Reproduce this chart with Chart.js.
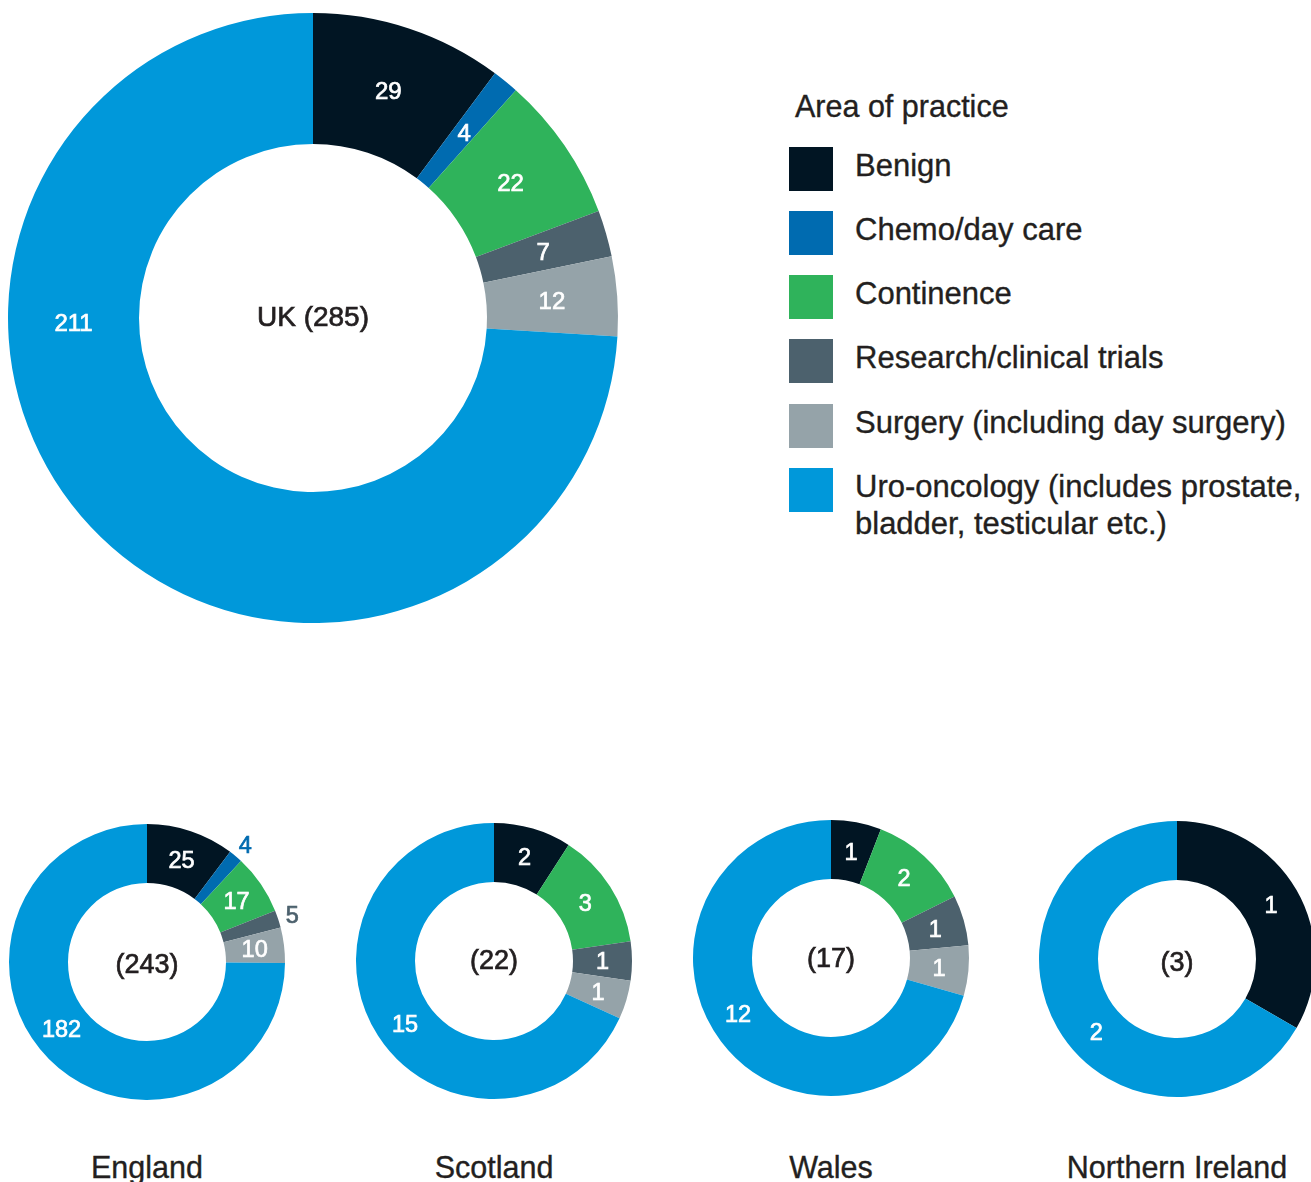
<!DOCTYPE html>
<html>
<head>
<meta charset="utf-8">
<script src="https://cdn.jsdelivr.net/npm/chart.js@4/dist/chart.umd.min.js"></script>
<style>
  html, body { margin: 0; padding: 0; background: #fff; }
  body { width: 1311px; height: 1182px; position: relative; overflow: hidden;
         font-family: "Liberation Sans", Arial, sans-serif; color: #231f20; }
  .chartbox { position: absolute; }
  .chartbox canvas { display: block; }
  .legend-title { position: absolute; left: 795px; top: 91px; font-size: 30.5px; line-height: 30px; white-space: nowrap; -webkit-text-stroke: 0.35px #231f20; }
  .sw { position: absolute; left: 789px; width: 44px; height: 44px; }
  .lt { position: absolute; left: 855px; font-size: 31px; line-height: 37px; white-space: pre-line; -webkit-text-stroke: 0.35px #231f20; }
  .region { position: absolute; top: 1152px; font-size: 30.5px; line-height: 30px; white-space: nowrap; transform: translateX(-50%); -webkit-text-stroke: 0.35px #231f20; }
</style>
</head>
<body>
<script>
// ---------- DATA ----------
const categories = ['Benign', 'Chemo/day care', 'Continence', 'Research/clinical trials',
  'Surgery (including day surgery)', 'Uro-oncology (includes prostate, bladder, testicular etc.)'];
const legendLabels = ['Benign', 'Chemo/day care', 'Continence', 'Research/clinical trials',
  'Surgery (including day surgery)', 'Uro-oncology (includes prostate,\nbladder, testicular etc.)'];
const legendTitle = 'Area of practice';
const ukName = 'UK';
const ukValues       = [29, 4, 22, 7, 12, 211];
const englandValues  = [25, 4, 17, 5, 10, 182];
const scotlandValues = [2, 0, 3, 1, 1, 15];
const walesValues    = [1, 0, 2, 1, 1, 12];
const niValues       = [1, 0, 0, 0, 0, 2];
const regionNames = ['England', 'Scotland', 'Wales', 'Northern Ireland'];
const colors = ['#011523', '#006bb0', '#2fb35b', '#4c616d', '#95a3a9', '#0098da'];

// ---------- STYLE / LAYOUT ----------
const FONT = '"Liberation Sans", Arial, sans-serif';
const TEXT = '#231f20';
const deg = d => d * Math.PI / 180;

function drawText(ctx, s, x, y, col) {
  ctx.fillStyle = col;
  ctx.strokeStyle = col;
  ctx.lineWidth = 0.7;
  ctx.fillText(s, x, y);
  ctx.strokeText(s, x, y);
}

function labelPlugin(cfg) {
  return {
    id: 'arcLabels',
    afterDatasetsDraw(chart) {
      const ctx = chart.ctx;
      const meta = chart.getDatasetMeta(0);
      const ds = chart.data.datasets[0];
      ctx.save();
      ctx.textAlign = 'center';
      ctx.textBaseline = 'middle';
      ctx.font = cfg.size + 'px ' + FONT;
      meta.data.forEach((arc, i) => {
        const v = ds.data[i];
        if (!v) return;
        const p = arc.getProps(['x', 'y', 'startAngle', 'endAngle', 'innerRadius', 'outerRadius'], true);
        let a = (p.startAngle + p.endAngle) / 2;
        let r = (p.innerRadius + p.outerRadius) / 2;
        let col = '#ffffff';
        if (cfg.outside && cfg.outside.includes(i)) {
          r = p.outerRadius + cfg.outsideGap;
          col = ds.backgroundColor[i];
        }
        if (cfg.angle && cfg.angle[i] !== undefined) a = cfg.angle[i];
        drawText(ctx, String(v), p.x + r * Math.cos(a), p.y + r * Math.sin(a) + 2, col);
      });
      const c = meta.data[0];
      ctx.font = cfg.centerSize + 'px ' + FONT;
      drawText(ctx, cfg.center, c.x, c.y + (cfg.centerDy || 0), TEXT);
      ctx.restore();
    }
  };
}

function makeDonut(values, cx, cy, radius, inner, cfg) {
  const size = Math.ceil(radius * 2 + 64);
  const box = document.createElement('div');
  box.className = 'chartbox';
  box.style.left = (cx - size / 2) + 'px';
  box.style.top = (cy - size / 2) + 'px';
  box.style.width = size + 'px';
  box.style.height = size + 'px';
  const cv = document.createElement('canvas');
  cv.width = size; cv.height = size;
  cv.style.width = size + 'px'; cv.style.height = size + 'px';
  box.appendChild(cv);
  document.body.appendChild(box);
  new Chart(cv, {
    type: 'doughnut',
    data: {
      labels: categories,
      datasets: [{ data: values, backgroundColor: colors, borderWidth: 0, hoverOffset: 0 }]
    },
    options: {
      responsive: false,
      animation: false,
      radius: radius,
      cutout: (inner / radius * 100).toFixed(3) + '%',
      layout: { padding: 0 },
      plugins: { legend: { display: false }, tooltip: { enabled: false } },
      events: []
    },
    plugins: [labelPlugin(cfg)]
  });
}

const sum = a => a.reduce((s, v) => s + v, 0);

// UK main donut
makeDonut(ukValues, 313, 318, 305, 174,
  { size: 24, centerSize: 28, centerDy: 0, center: ukName + ' (' + sum(ukValues) + ')', angle: { 5: deg(179) } });

// Regional donuts
const regionCenters = [[147, 962], [494, 961], [831, 958], [1177, 959]];
const regionCenterDy = [4, 1, 2, 5];
const regionUroAngle = [142, 145, 149, 138];
const regionValues = [englandValues, scotlandValues, walesValues, niValues];
regionValues.forEach((vals, k) => {
  const [cx, cy] = regionCenters[k];
  makeDonut(vals, cx, cy, 138, 79, {
    size: 23.5, centerSize: 27, centerDy: regionCenterDy[k], center: '(' + sum(vals) + ')',
    outside: k === 0 ? [1, 3] : [], outsideGap: 15,
    angle: { 5: deg(regionUroAngle[k]) }
  });
  const lab = document.createElement('div');
  lab.className = 'region';
  lab.style.left = cx + 'px';
  lab.textContent = regionNames[k];
  document.body.appendChild(lab);
});

// Legend
const title = document.createElement('div');
title.className = 'legend-title';
title.textContent = legendTitle;
document.body.appendChild(title);
const swTops = [147, 211, 275, 339, 404, 468];
legendLabels.forEach((t, i) => {
  const sw = document.createElement('div');
  sw.className = 'sw';
  sw.style.top = swTops[i] + 'px';
  sw.style.background = colors[i];
  document.body.appendChild(sw);
  const lt = document.createElement('div');
  lt.className = 'lt';
  lt.style.top = (swTops[i] + 0) + 'px';
  lt.textContent = t;
  document.body.appendChild(lt);
});
</script>
</body>
</html>
